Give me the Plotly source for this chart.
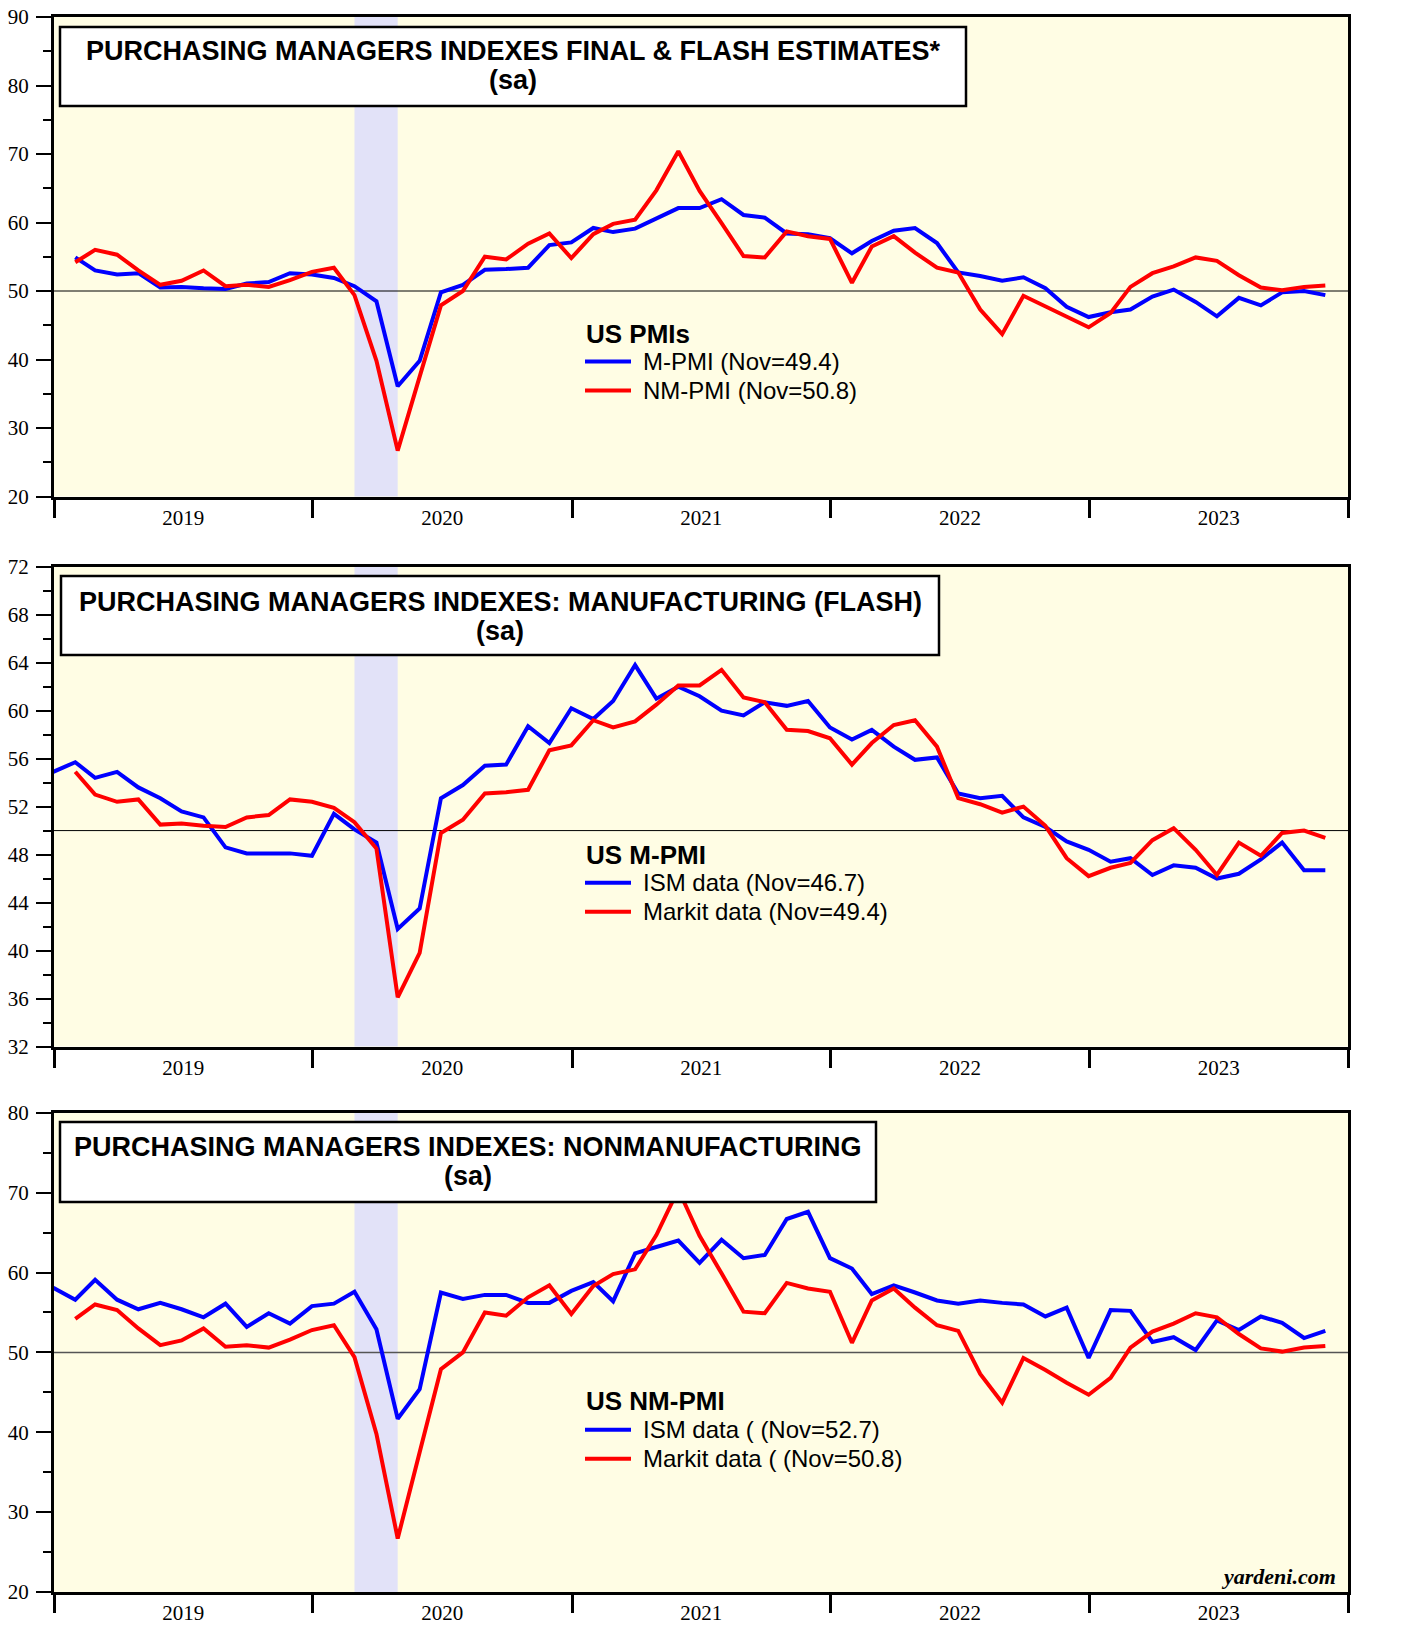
import pandas as pd
import plotly.graph_objects as go

# ---------------- data ----------------
# month-end dates: Dec 2018 .. Nov 2023
months_ism = pd.date_range("2018-12-31", periods=60, freq="ME")
months_markit = months_ism[1:]

markit_mfg = [54.9, 53.0, 52.4, 52.6, 50.5, 50.6, 50.4, 50.3, 51.1, 51.3, 52.6, 52.4,
              51.9, 50.7, 48.5, 36.1, 39.8, 49.8, 50.9, 53.1, 53.2, 53.4, 56.7, 57.1,
              59.2, 58.6, 59.1, 60.5, 62.1, 62.1, 63.4, 61.1, 60.7, 58.4, 58.3, 57.7,
              55.5, 57.3, 58.8, 59.2, 57.0, 52.7, 52.2, 51.5, 52.0, 50.4, 47.7, 46.2,
              46.9, 47.3, 49.2, 50.2, 48.4, 46.3, 49.0, 47.9, 49.8, 50.0, 49.4]

markit_srv = [54.2, 56.0, 55.3, 53.0, 50.9, 51.5, 53.0, 50.7, 50.9, 50.6, 51.6, 52.8,
              53.4, 49.4, 39.8, 26.7, 37.5, 47.9, 50.0, 55.0, 54.6, 56.9, 58.4, 54.8,
              58.3, 59.8, 60.4, 64.7, 70.4, 64.6, 59.9, 55.1, 54.9, 58.7, 58.0, 57.6,
              51.2, 56.5, 58.0, 55.6, 53.4, 52.7, 47.3, 43.7, 49.3, 47.8, 46.2, 44.7,
              46.8, 50.6, 52.6, 53.6, 54.9, 54.4, 52.3, 50.5, 50.1, 50.6, 50.8]

ism_mfg = [54.9,
           55.7, 54.4, 54.9, 53.6, 52.7, 51.6, 51.1, 48.6, 48.1, 48.1, 48.1, 47.9,
           51.4, 50.1, 49.0, 41.8, 43.5, 52.7, 53.8, 55.4, 55.5, 58.7, 57.3, 60.2,
           59.3, 60.8, 63.8, 61.0, 62.0, 61.2, 60.0, 59.6, 60.7, 60.4, 60.8, 58.6,
           57.6, 58.4, 57.0, 55.9, 56.1, 53.1, 52.7, 52.9, 51.1, 50.3, 49.1, 48.4,
           47.4, 47.7, 46.3, 47.1, 46.9, 46.0, 46.4, 47.6, 49.0, 46.7, 46.7]

ism_srv = [58.1,
           56.6, 59.1, 56.6, 55.4, 56.2, 55.4, 54.4, 56.1, 53.2, 54.9, 53.6, 55.8,
           56.1, 57.6, 52.9, 41.7, 45.4, 57.5, 56.7, 57.2, 57.2, 56.2, 56.2, 57.7,
           58.8, 56.4, 62.4, 63.2, 64.0, 61.2, 64.1, 61.8, 62.2, 66.7, 67.6, 61.8,
           60.5, 57.3, 58.4, 57.5, 56.5, 56.1, 56.5, 56.2, 56.0, 54.5, 55.6, 49.3,
           55.3, 55.2, 51.3, 51.9, 50.3, 54.0, 52.8, 54.5, 53.7, 51.8, 52.7]

recession = ("2020-02-29", "2020-04-30")
x_range = ["2019-01-01", "2024-01-01"]

titles = ["PURCHASING MANAGERS INDEXES FINAL & FLASH ESTIMATES*",
          "PURCHASING MANAGERS INDEXES: MANUFACTURING (FLASH)",
          "PURCHASING MANAGERS INDEXES: NONMANUFACTURING"]
legend_titles = ["US PMIs", "US M-PMI", "US NM-PMI"]
legend_items = [["M-PMI (Nov=49.4)", "NM-PMI (Nov=50.8)"],
                ["ISM data (Nov=46.7)", "Markit data (Nov=49.4)"],
                ["ISM data ( (Nov=52.7)", "Markit data ( (Nov=50.8)"]]
y_ranges = [(20, 90, 10, 5), (32, 72, 4, 2), (20, 80, 10, 5)]

BLUE = "#0000FF"
RED = "#FF0000"
BG = "#FFFDE4"
BAND = "#E2E2F8"
SANS = "Liberation Sans, Arial, sans-serif"
SERIF = "Liberation Serif, Times New Roman, serif"

# ---------------- layout geometry ----------------
W, H = 1408, 1625
L, R, T, B = 54, 60, 17, 33
PW, PH = W - L - R, H - T - B


def pxx(x):
    return (x - L) / PW


def pxy(y):
    return (T + PH - y) / PH


domains = [(pxy(496.5), 1.0), (pxy(1046.5), pxy(566.7)), (0.0, pxy(1112.8))]

fig = go.Figure()

series = [
    (months_markit, markit_mfg, months_markit, markit_srv),
    (months_ism, ism_mfg, months_markit, markit_mfg),
    (months_ism, ism_srv, months_markit, markit_srv),
]

for i, (xb, yb, xr, yr) in enumerate(series):
    xa = "x" if i == 0 else f"x{i + 1}"
    ya = "y" if i == 0 else f"y{2 * i + 1}"
    fig.add_trace(go.Scatter(x=xb, y=yb, mode="lines", line=dict(color=BLUE, width=4),
                             xaxis=xa, yaxis=ya, showlegend=False, hoverinfo="x+y"))
    fig.add_trace(go.Scatter(x=xr, y=yr, mode="lines", line=dict(color=RED, width=4),
                             xaxis=xa, yaxis=ya, showlegend=False, hoverinfo="x+y"))

layout = dict(width=W, height=H, margin=dict(l=L, r=R, t=T, b=B, autoexpand=False),
              paper_bgcolor="white", plot_bgcolor=BG, showlegend=False)

for i in range(3):
    xk = "xaxis" if i == 0 else f"xaxis{i + 1}"
    yk_left = "yaxis" if i == 0 else f"yaxis{2 * i + 1}"
    yk_right = f"yaxis{2 * i + 2}"
    y_left_id = "y" if i == 0 else f"y{2 * i + 1}"
    x_id = "x" if i == 0 else f"x{i + 1}"
    lo, hi, dt, mdt = y_ranges[i]
    layout[xk] = dict(domain=[0, 1], anchor=y_left_id, type="date", range=x_range,
                      tick0="2019-01-01", dtick="M12", ticklabelmode="period",
                      tickformat="%Y", ticks="outside", ticklen=18, tickwidth=3,
                      tickcolor="black", showline=True, linewidth=3, linecolor="black",
                      mirror=True, showgrid=False, zeroline=False, automargin=False,
                      tickfont=dict(family=SERIF, size=21, color="black"),
                      ticklabelstandoff=-18)
    common_y = dict(range=[lo, hi], dtick=dt, tick0=lo, ticks="outside", ticklen=15,
                    tickwidth=2, tickcolor="black", showgrid=False, zeroline=False,
                    automargin=False,
                    tickfont=dict(family=SERIF, size=21, color="black"),
                    minor=dict(dtick=mdt, tick0=lo, ticks="outside", ticklen=8,
                               tickwidth=2, tickcolor="black", showgrid=False),
                    ticklabelstandoff=3)
    layout[yk_left] = dict(domain=list(domains[i]), anchor=x_id, showline=True,
                           linewidth=3, linecolor="black", mirror=True, **common_y)
    layout[yk_right] = dict(overlaying=y_left_id, side="right", anchor=x_id,
                            showline=False, **common_y)

fig.update_layout(**layout)

shapes = []
annotations = []

title_boxes = [(60, 27, 966, 106), (61, 576, 939, 655), (60, 1122, 876, 1202)]
title_centers = [(513, 51, 80), (500, 602, 631), (468, 1147, 1176)]
legend_pos = [(333.6, 361.6, 390.6), (854.8, 882.8, 911.8), (1400.8, 1429.8, 1458.8)]

for i in range(3):
    x_id = "x" if i == 0 else f"x{i + 1}"
    y_id = "y" if i == 0 else f"y{2 * i + 1}"
    # recession band
    shapes.append(dict(type="rect", xref=x_id, yref=f"{y_id} domain",
                       x0=recession[0], x1=recession[1], y0=0, y1=1,
                       fillcolor=BAND, line=dict(width=0), layer="below"))
    # 50 reference line
    shapes.append(dict(type="line", xref=f"{x_id} domain", yref=y_id, x0=0, x1=1,
                       y0=50, y1=50, layer="below",
                       line=dict(color="black" if i < 2 else "#555555",
                                 width=1 if i < 2 else 1.5)))
    # title box
    bx0, by0, bx1, by1 = title_boxes[i]
    shapes.append(dict(type="rect", xref="paper", yref="paper",
                       x0=pxx(bx0), x1=pxx(bx1), y0=pxy(by1), y1=pxy(by0),
                       fillcolor="white", line=dict(color="black", width=2.5),
                       layer="above"))
    cx, cy1, cy2 = title_centers[i]
    annotations.append(dict(xref="paper", yref="paper", x=pxx(cx), y=pxy(cy1),
                            xanchor="center", yanchor="middle", showarrow=False,
                            text=f"<b>{titles[i]}</b>",
                            font=dict(family=SANS, size=27, color="black")))
    annotations.append(dict(xref="paper", yref="paper", x=pxx(cx), y=pxy(cy2),
                            xanchor="center", yanchor="middle", showarrow=False,
                            text="<b>(sa)</b>",
                            font=dict(family=SANS, size=27, color="black")))
    # legend
    ly0, ly1, ly2 = legend_pos[i]
    annotations.append(dict(xref="paper", yref="paper", x=pxx(584), y=pxy(ly0),
                            xanchor="left", yanchor="middle", showarrow=False,
                            text=f"<b>{legend_titles[i]}</b>",
                            font=dict(family=SANS, size=26, color="black")))
    for yy, col, txt in ((ly1, BLUE, legend_items[i][0]), (ly2, RED, legend_items[i][1])):
        shapes.append(dict(type="line", xref="paper", yref="paper",
                           x0=pxx(585), x1=pxx(631), y0=pxy(yy), y1=pxy(yy),
                           line=dict(color=col, width=4), layer="above"))
        annotations.append(dict(xref="paper", yref="paper", x=pxx(641), y=pxy(yy),
                                xanchor="left", yanchor="middle", showarrow=False,
                                text=txt, font=dict(family=SANS, size=24, color="black")))

annotations.append(dict(xref="paper", yref="paper", x=pxx(1338), y=pxy(1576),
                        xanchor="right", yanchor="middle", showarrow=False,
                        text="<b><i>yardeni.com</i></b>",
                        font=dict(family=SERIF, size=22, color="black")))

fig.update_layout(shapes=shapes, annotations=annotations)

fig.write_html("out.html",
               config={"displayModeBar": False},
               post_script="document.body.style.margin='0';"
                           "document.body.style.overflow='hidden';")
